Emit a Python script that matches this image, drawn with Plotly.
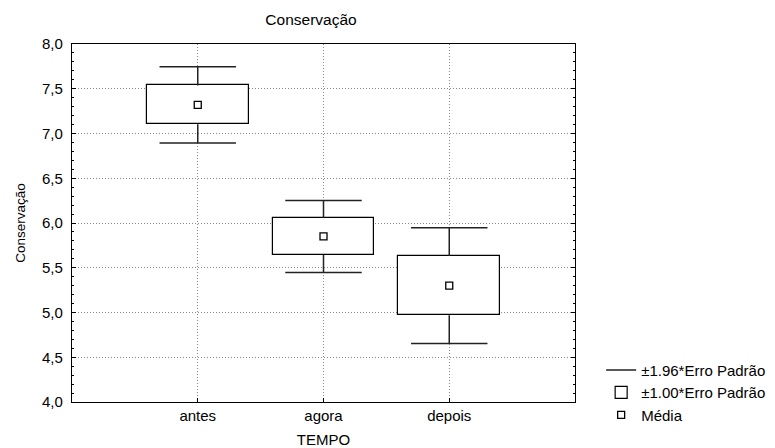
import plotly.graph_objects as go

categories = ["antes", "agora", "depois"]
means = [7.32, 5.85, 5.30]
se = [0.217, 0.2055, 0.33]
y_ticks = [4.0, 4.5, 5.0, 5.5, 6.0, 6.5, 7.0, 7.5, 8.0]

FONT = "Liberation Sans, Arial, sans-serif"
xpos = list(range(1, len(categories) + 1))
BOX_W = 0.808
CAP_HALF = 0.304
K = 1.96

# whisker segments built from the data
wx, wy = [], []
for x, m, s in zip(xpos, means, se):
    hi_in, hi_out = m + s, m + K * s
    lo_in, lo_out = m - s, m - K * s
    wx += [x, x, None, x - CAP_HALF, x + CAP_HALF, None,
           x, x, None, x - CAP_HALF, x + CAP_HALF, None]
    wy += [hi_in, hi_out, None, hi_out, hi_out, None,
           lo_in, lo_out, None, lo_out, lo_out, None]

fig = go.Figure()
fig.add_trace(go.Bar(
    x=xpos, y=[2 * s for s in se], base=[m - s for m, s in zip(means, se)],
    width=BOX_W, name="±1.00*Erro Padrão", legendrank=2,
    marker=dict(color="white", line=dict(color="black", width=1.2)),
    hoverinfo="skip",
))
fig.add_trace(go.Scatter(
    x=wx, y=wy, mode="lines", name="±1.96*Erro Padrão", legendrank=1,
    line=dict(color="#222222", width=1.5), hoverinfo="skip",
))
fig.add_trace(go.Scatter(
    x=xpos, y=means, mode="markers", name="Média", legendrank=3,
    marker=dict(symbol="square-open", size=7, color="black", line=dict(width=1.3)),
))

GRID = dict(showgrid=True, gridcolor="#8a8a8a", griddash="1px,2px", gridwidth=1)

fig.update_layout(
    width=775, height=448,
    margin=dict(l=72, r=200, t=44, b=46, autoexpand=False),
    paper_bgcolor="white", plot_bgcolor="white",
    separators=",.",
    font=dict(family=FONT, size=15, color="black"),
    title=dict(text="Conservação", x=311 / 775, xanchor="center", xref="container",
               y=1 - 20 / 448, yanchor="middle", yref="container",
               font=dict(size=15.5, family=FONT)),
    showlegend=True,
    legend=dict(x=1.052, xanchor="left", y=0.135, yanchor="top",
                font=dict(size=15, family=FONT), bgcolor="rgba(0,0,0,0)",
                tracegroupgap=0, itemwidth=30),
    bargap=0,
)
fig.update_xaxes(
    range=[0, 4], tickvals=xpos, ticktext=categories, automargin=False,
    **GRID,
    showline=True, linecolor="black", linewidth=1.2, mirror=True,
    ticks="inside", ticklen=4, tickcolor="black",
    zeroline=False,
    title=dict(text="TEMPO", standoff=15, font=dict(size=15)),
)
fig.update_yaxes(
    range=[4, 8], tickvals=y_ticks, tickformat=".1f", automargin=False,
    ticklabelstandoff=5,
    **GRID,
    showline=True, linecolor="black", linewidth=1.2, mirror="allticks",
    ticks="inside", ticklen=4, tickcolor="black",
    minor=dict(dtick=0.1, ticks="inside", ticklen=2, tickcolor="black", showgrid=False),
    zeroline=False,
    title=dict(text="Conservação", standoff=13, font=dict(size=13.5)),
)

fig.write_html("out.html", config={"displayModeBar": False},
               post_script="document.body.style.margin='0';")
